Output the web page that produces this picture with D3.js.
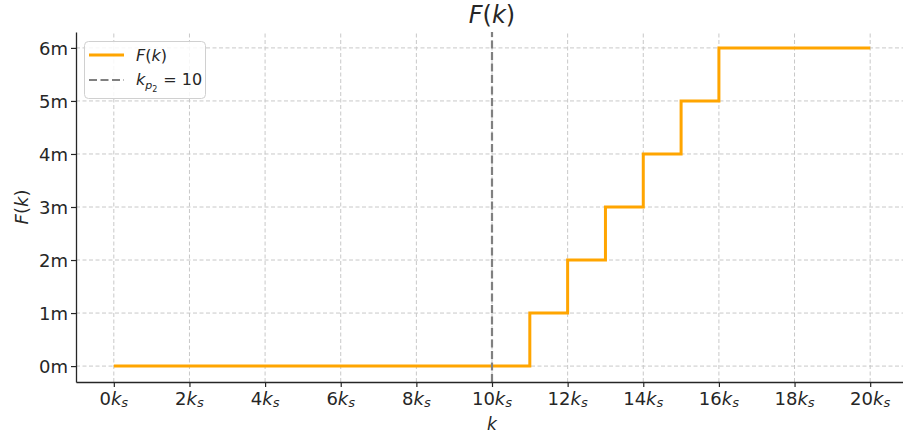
<!DOCTYPE html>
<html><head><meta charset="utf-8">
<script src="https://cdn.jsdelivr.net/npm/d3@7"></script>
<style>
body{margin:0;background:#fff;}
svg{display:block;font-family:"DejaVu Sans",sans-serif;}
</style></head>
<body><svg id="c" width="903" height="439"></svg>
<script>
const kValues = [0,1,2,3,4,5,6,7,8,9,10,11,12,13,14,15,16,17,18,19,20];
const fValues = [0,0,0,0,0,0,0,0,0,0,0,1,2,3,4,5,6,6,6,6,6];
const xTicks = [0,2,4,6,8,10,12,14,16,18,20];
const yTicks = [0,1,2,3,4,5,6];
const kP2 = 10;

const svg = d3.select("#c");
const W = 903, H = 439;
const m = {l:76, r:-5, t:32, b:57};
const x = d3.scaleLinear().domain([-1,21]).range([m.l, W - m.r]);
const y = d3.scaleLinear().domain([-0.3,6.3]).range([H - m.b, m.t]);
const txt = "#262626";

// grid
const g = svg.append("g");
g.selectAll(".gx").data(xTicks).join("line")
  .attr("x1", d=>x(d)).attr("x2", d=>x(d)).attr("y1", y(-0.3)).attr("y2", y(6.3))
  .attr("stroke","#c8c8c8").attr("stroke-width",1).attr("stroke-dasharray","4,2.5");
g.selectAll(".gy").data(yTicks).join("line")
  .attr("y1", d=>y(d)).attr("y2", d=>y(d)).attr("x1", x(-1)).attr("x2", x(21))
  .attr("stroke","#c8c8c8").attr("stroke-width",1).attr("stroke-dasharray","4,2.5");

// step line
const pts = kValues.map((k,i)=>[k,fValues[i]]);
svg.append("path").datum(pts)
  .attr("d", d3.line().x(d=>x(d[0])).y(d=>y(d[1])).curve(d3.curveStepAfter))
  .attr("fill","none").attr("stroke","#FFA500").attr("stroke-width",3);

// vertical dashed line
svg.append("line").attr("x1",x(kP2)).attr("x2",x(kP2)).attr("y1",y(-0.3)).attr("y2",y(6.3))
  .attr("stroke","#808080").attr("stroke-width",2.2).attr("stroke-dasharray","8,3.5");

// axes
const xAxis = svg.append("g").attr("transform",`translate(0,${y(-0.3)})`)
  .call(d3.axisBottom(x).tickValues(xTicks).tickSize(5).tickSizeOuter(0).tickFormat(""));
const yAxis = svg.append("g").attr("transform",`translate(${x(-1)},0)`)
  .call(d3.axisLeft(y).tickValues(yTicks).tickSize(5).tickSizeOuter(0).tickFormat(d=>d+"m"));
[xAxis,yAxis].forEach(a=>{
  a.select(".domain").attr("stroke",txt).attr("stroke-width",1.3);
  a.selectAll(".tick line").attr("stroke",txt).attr("stroke-width",1.2);
});
yAxis.selectAll(".tick text").attr("font-size",18).attr("fill",txt)
  .attr("font-family","DejaVu Sans").attr("x",-8).attr("dy","0.35em");

// x tick labels with k_s
xTicks.forEach(t=>{
  const tx = svg.append("text").attr("x",x(t)).attr("y",y(-0.3)+22.5)
    .attr("text-anchor","middle").attr("font-size",18).attr("fill",txt);
  tx.append("tspan").text(t);
  tx.append("tspan").attr("font-style","italic").text("k");
  tx.append("tspan").attr("font-style","italic").attr("font-size",13).attr("dy",2.5).text("s");
});

// title
const tt = svg.append("text").attr("x",(x(-1)+x(21))/2).attr("y",23).attr("text-anchor","middle")
  .attr("font-size",24).attr("fill",txt);
tt.append("tspan").attr("font-style","italic").text("F");
tt.append("tspan").text("(");
tt.append("tspan").attr("font-style","italic").text("k");
tt.append("tspan").text(")");

// x label
svg.append("text").attr("x",x(10)).attr("y",430).attr("text-anchor","middle")
  .attr("font-size",17).attr("font-style","italic").attr("fill",txt).text("k");

// y label
const yl = svg.append("text").attr("transform",`translate(28,${(y(-0.3)+y(6.3))/2}) rotate(-90)`)
  .attr("text-anchor","middle").attr("font-size",18).attr("fill",txt);
yl.append("tspan").attr("font-style","italic").text("F");
yl.append("tspan").text("(");
yl.append("tspan").attr("font-style","italic").text("k");
yl.append("tspan").text(")");

// legend
const lg = svg.append("g");
lg.append("rect").attr("x",84.5).attr("y",41.5).attr("width",121).attr("height",57).attr("rx",4)
  .attr("fill","#fff").attr("fill-opacity",0.85).attr("stroke","#d0d0d0").attr("stroke-width",1);
lg.append("line").attr("x1",89).attr("x2",124).attr("y1",55).attr("y2",55)
  .attr("stroke","#FFA500").attr("stroke-width",3);
lg.append("line").attr("x1",89).attr("x2",124).attr("y1",80).attr("y2",80)
  .attr("stroke","#808080").attr("stroke-width",2.2).attr("stroke-dasharray","8,3.5");
const l1 = lg.append("text").attr("x",136).attr("y",61).attr("font-size",16).attr("fill",txt);
l1.append("tspan").attr("font-style","italic").text("F");
l1.append("tspan").text("(");
l1.append("tspan").attr("font-style","italic").text("k");
l1.append("tspan").text(")");
const l2 = lg.append("text").attr("x",136).attr("y",85).attr("font-size",16).attr("fill",txt);
l2.append("tspan").attr("font-style","italic").text("k");
l2.append("tspan").attr("font-style","italic").attr("font-size",11).attr("dy",4).text("p");
l2.append("tspan").attr("font-size",8).attr("dy",3).text("2");
l2.append("tspan").attr("dy",-7).attr("dx",6).text("= " + kP2);
</script></body></html>
